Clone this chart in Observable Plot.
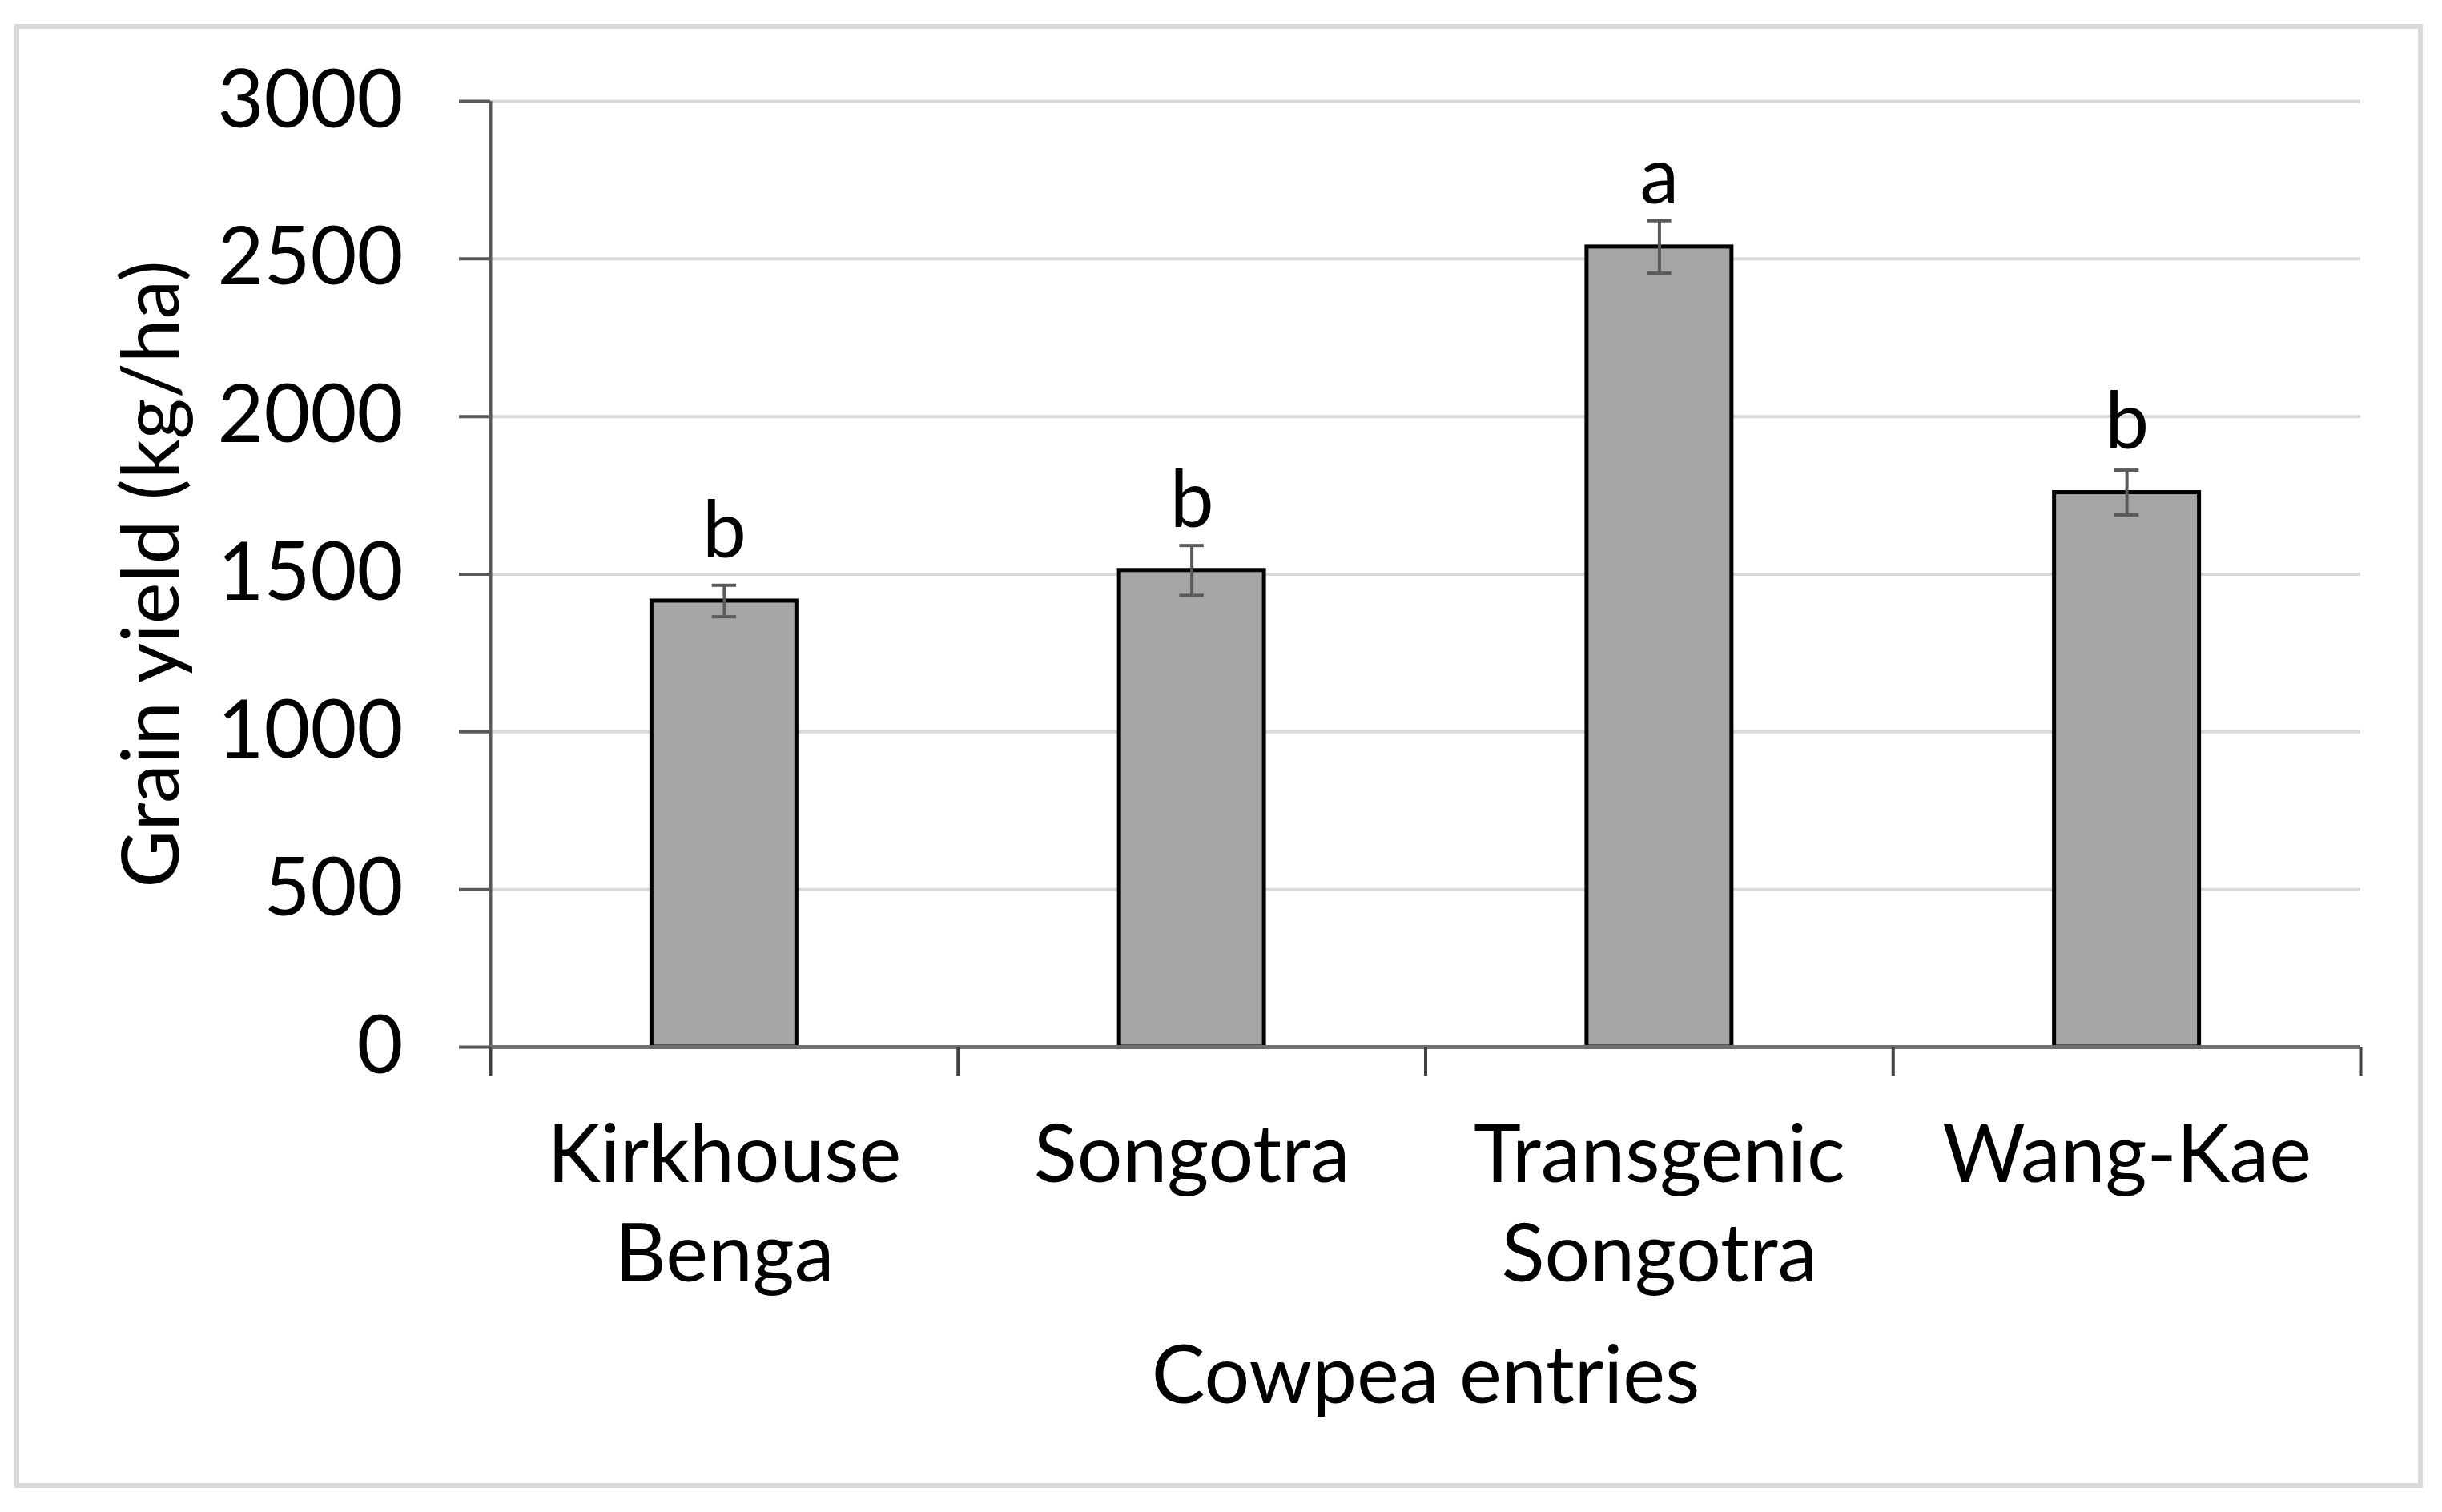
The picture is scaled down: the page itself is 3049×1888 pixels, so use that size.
<!DOCTYPE html>
<html>
<head>
<meta charset="utf-8">
<script src="https://cdn.jsdelivr.net/npm/d3@7"></script>
<script src="https://cdn.jsdelivr.net/npm/@observablehq/plot@0.6"></script>
<style>
  html, body { margin: 0; padding: 0; background: #fff; }
  #wrap { position: relative; width: 3049px; height: 1888px; background: #fff; }
  #border { position: absolute; left: 18px; top: 30px; width: 3007px; height: 1828px;
            border: 6px solid #d9d9d9; box-sizing: border-box; pointer-events: none; }
  #chart { position: absolute; left: 0; top: 0; }
</style>
</head>
<body>
<div id="wrap"><div id="border"></div><div id="chart"></div></div>
<script>
// ---- data ----
const categories = ["Kirkhouse\nBenga", "Songotra", "Transgenic\nSongotra", "Wang-Kae"];
const grainYield = [1415, 1512, 2538, 1759];
const stdError = [50, 79, 83, 71];
const letters = ["b", "b", "a", "b"];
const yTicks = [0, 500, 1000, 1500, 2000, 2500, 3000];
const xTitle = "Cowpea entries";
const yTitle = "Grain yield (kg/ha)";

const rows = categories.map((name, i) => ({
  pos: i + 0.5, name, value: grainYield[i], err: stdError[i], letter: letters[i]
}));
const boundaries = categories.map((_, i) => i).concat([categories.length]);
const centers = rows.map(d => d.pos);
const halfBar = 0.155, halfCap = 0.026;

const FONT = "Lato, 'Open Sans', sans-serif";
const FS = 100;

const chart = Plot.plot({
  width: 3049,
  height: 1888,
  marginLeft: 612,
  marginRight: 102,
  marginTop: 126,
  marginBottom: 581,
  style: { fontFamily: FONT, fontSize: FS + "px", color: "#000", background: "transparent" },
  x: { domain: [0, categories.length] },
  y: { domain: [0, 3000] },
  marks: [
    Plot.gridY(yTicks, { stroke: "#d9d9d9", strokeOpacity: 1, strokeWidth: 4 }),
    Plot.rectY(rows, {
      x1: d => d.pos - halfBar, x2: d => d.pos + halfBar, y1: 0, y2: "value",
      fill: "#a6a6a6", stroke: "#000", strokeWidth: 5
    }),
    Plot.ruleX(rows, { x: "pos", y1: d => d.value - d.err, y2: d => d.value + d.err, stroke: "#5a5a5a", strokeWidth: 4 }),
    Plot.ruleY(rows, { y: d => d.value + d.err, x1: d => d.pos - halfCap, x2: d => d.pos + halfCap, stroke: "#5a5a5a", strokeWidth: 4 }),
    Plot.ruleY(rows, { y: d => d.value - d.err, x1: d => d.pos - halfCap, x2: d => d.pos + halfCap, stroke: "#5a5a5a", strokeWidth: 4 }),
    Plot.text(rows, { x: "pos", y: "value", text: "letter", dy: -86, lineAnchor: "middle", fontSize: 98, fill: "#000" }),
    Plot.ruleX([0], { stroke: "#595959", strokeWidth: 4 }),
    Plot.ruleY([0], { stroke: "#707070", strokeWidth: 5 }),
    Plot.axisY({
      ticks: yTicks, tickSize: 39, tickPadding: 70, tickFormat: d => String(d),
      stroke: "#595959", strokeWidth: 4, label: null, fontSize: FS, fill: "#000"
    }),
    Plot.axisX({
      ticks: boundaries, tickSize: 36, tickFormat: () => "", stroke: "#404040", strokeWidth: 4, label: null
    }),
    Plot.axisX({
      ticks: centers, tickSize: 0, tickPadding: 80, tickFormat: d => categories[Math.floor(d)],
      lineHeight: 1.24, label: null, fontSize: FS, fill: "#000"
    }),
    Plot.text([xTitle], { frameAnchor: "bottom", dy: 412, lineAnchor: "middle", textAnchor: "middle", fontSize: FS, fill: "#000" }),
    Plot.text([yTitle], { frameAnchor: "left", dx: -421, rotate: -90, lineAnchor: "middle", textAnchor: "middle", fontSize: 98, fill: "#000" })
  ]
});
document.getElementById("chart").appendChild(chart);
</script>
</body>
</html>
